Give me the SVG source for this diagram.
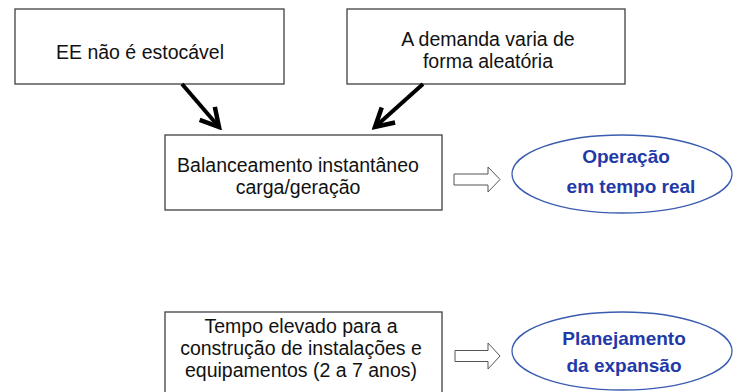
<svg xmlns="http://www.w3.org/2000/svg" width="733" height="392" viewBox="0 0 733 392">
<defs>
<style>
.box{fill:#fff;stroke:#404040;stroke-width:1.3}
.ell{fill:#fff;stroke:#3a5cb0;stroke-width:1.3}
.t{font-family:"Liberation Sans",Arial,sans-serif;font-size:19.5px;fill:#111;text-anchor:middle}
.b{font-family:"Liberation Sans",Arial,sans-serif;font-size:19px;font-weight:bold;fill:#1f3aa8;text-anchor:middle}
.con{fill:none;stroke:#000;stroke-width:4;stroke-linecap:butt}
.blk{fill:#fff;stroke:#555;stroke-width:1}
</style>
<marker id="v" markerUnits="userSpaceOnUse" viewBox="-24 -14 28 28" refX="0" refY="0" markerWidth="28" markerHeight="28" orient="auto">
<path d="M-18,-10 L0,0 L-18,10" fill="none" stroke="#000" stroke-width="4.5" stroke-linejoin="miter"/>
</marker>
</defs>
<rect width="733" height="392" fill="#fff"/>
<g id="n1"><rect class="box" x="15" y="9" width="269" height="75"/><text class="t" x="140" y="59">EE não é estocável</text></g>
<g id="n2"><rect class="box" x="347" y="9" width="278" height="75"/><text class="t" x="488" y="46">A demanda varia de</text><text class="t" x="488" y="68">forma aleatória</text></g>
<g id="n3"><rect class="box" x="165" y="135" width="277" height="75"/><text class="t" x="298" y="172">Balanceamento instantâneo</text><text class="t" x="298" y="194">carga/geração</text></g>
<g id="n4"><ellipse class="ell" cx="622" cy="174" rx="110" ry="39"/><text class="b" x="626" y="163">Operação</text><text class="b" x="631" y="193">em tempo real</text></g>
<g id="n5"><rect class="box" x="165" y="312" width="277" height="90"/><text class="t" x="301" y="333">Tempo elevado para a</text><text class="t" x="301" y="355">construção de instalações e</text><text class="t" x="301" y="377">equipamentos (2 a 7 anos)</text></g>
<g id="n6"><ellipse class="ell" cx="622" cy="351" rx="110" ry="39"/><text class="b" x="624" y="345">Planejamento</text><text class="b" x="624" y="372">da expansão</text></g>
<g id="connectors">
<path class="con" d="M182,84 L219,127" marker-end="url(#v)"/>
<path class="con" d="M423,84 L375,127" marker-end="url(#v)"/>
<path class="blk" d="M454,174 L488,174 L488,167 L500,179.5 L488,192 L488,185 L454,185 Z"/>
<path class="blk" d="M455,350.5 L488,350.5 L488,343 L500,356 L488,369 L488,361.5 L455,361.5 Z"/>
</g>
</svg>
